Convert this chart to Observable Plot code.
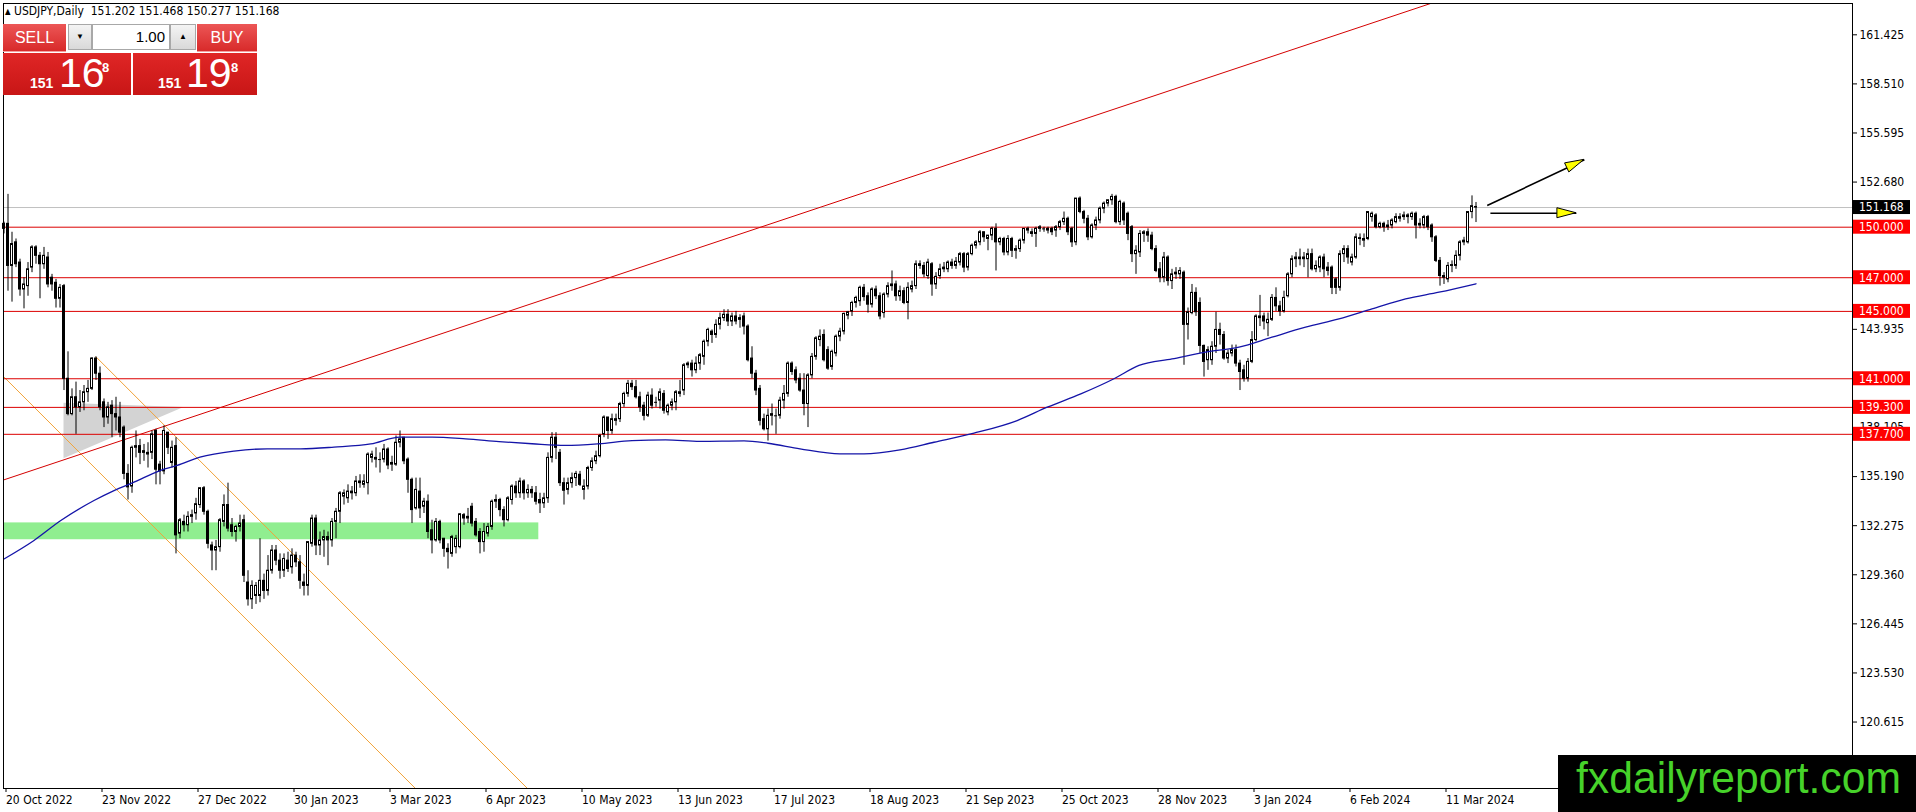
<!DOCTYPE html>
<html><head><meta charset="utf-8">
<script src="https://cdn.jsdelivr.net/npm/d3@7"></script>
<script src="https://cdn.jsdelivr.net/npm/@observablehq/plot@0.6"></script>
<style>
html,body{margin:0;padding:0;background:#fff;overflow:hidden;}
#wrap{position:relative;width:1916px;height:812px;}
#wrap svg{display:block;}
#title{position:absolute;left:5px;top:3px;font:12px "DejaVu Sans Condensed","DejaVu Sans",sans-serif;font-stretch:condensed;white-space:pre;line-height:16px;color:#000;}
#title .tri{font-size:8px;vertical-align:1px;}
.pb{position:absolute;box-sizing:border-box;font-family:"Liberation Sans Narrow","Liberation Sans",sans-serif;}
.btn{background:linear-gradient(#ec5656,#d82a2a);color:#fff;font-size:16px;text-align:center;line-height:27px;border-bottom:1px solid #f4a0a0;}
.spin{background:linear-gradient(#f4f4f4,#d9d9d9);border:1px solid #a8a8a8;color:#000;font-size:8px;text-align:center;line-height:24px;}
.inp{background:#fff;border:1px solid #a8a8a8;color:#000;font-size:15px;text-align:right;padding-right:4px;line-height:24px;}
.big{background:linear-gradient(#e02626,#c81616);color:#fff;}
.big span{position:absolute;line-height:1;font-family:"Liberation Sans",sans-serif;}
.big .s{font-size:14px;font-weight:bold;top:23px;}
.big .l{font-size:41px;top:0px;}
.big .p{font-size:13px;font-weight:bold;top:8px;}
</style></head><body>
<div id="wrap"></div>
<script>
// ---------- data ----------
const xLabels = ["20 Oct 2022","23 Nov 2022","27 Dec 2022","30 Jan 2023","3 Mar 2023","6 Apr 2023","10 May 2023","13 Jun 2023","17 Jul 2023","18 Aug 2023","21 Sep 2023","25 Oct 2023","28 Nov 2023","3 Jan 2024","6 Feb 2024","11 Mar 2024"];
const xTickBars = [0,24,48,72,96,120,144,168,192,216,240,264,288,312,336,360];
// visible right-axis ticks (others are hidden under the price tags / watermark)
const yTicks = [161.425,158.51,155.595,152.68,143.935,138.105,135.19,132.275,129.36,126.445,123.53,120.615];
const levels = [150.0,147.0,145.0,141.0,139.3,137.7];
const bid = 151.168, ask = 151.198;

const open = [
149.9,150.2,147.7,149.1,147.9,146.3,146.5,147.6,148.8,148.3,
147.8,148.2,147.0,146.7,145.75,146.5,141.0,138.9,139.9,139.3,
139.6,140.2,140.4,142.2,141.3,139.6,138.7,139.4,138.9,138.7,
138.1,135.35,134.6,136.9,137.0,136.7,136.5,136.6,137.9,135.9,
135.5,137.8,136.0,137.0,131.8,132.5,132.3,132.8,133.0,133.5,
134.5,133.1,131.1,130.8,131.0,132.5,133.5,132.3,131.9,132.2,
132.6,128.9,127.9,128.1,128.1,129.0,128.4,129.6,130.8,130.2,
129.6,130.2,129.8,130.5,130.1,128.9,128.7,131.2,132.7,131.1,
131.4,131.6,131.4,132.5,133.1,134.0,133.9,134.2,134.2,134.9,
134.7,134.8,136.3,136.3,136.2,136.2,136.8,135.9,135.9,137.2,
137.5,136.2,135.0,133.3,134.3,133.4,133.7,132.0,131.4,132.5,
131.5,130.9,130.6,131.0,131.0,132.9,132.7,133.4,132.5,131.9,
131.3,131.8,132.2,133.7,133.8,133.2,132.6,133.8,134.6,134.2,
134.9,134.2,134.4,134.2,133.8,133.6,133.9,136.3,137.5,136.6,
134.8,134.4,134.8,135.1,135.3,134.4,134.6,135.7,136.1,136.4,
137.7,138.7,137.9,138.5,138.6,139.5,140.1,140.7,140.5,139.9,
139.4,138.8,140.0,139.6,139.7,140.1,139.0,139.4,139.6,140.1,
140.3,141.8,141.9,141.5,141.9,142.3,143.2,143.8,143.6,144.2,
144.6,144.8,144.4,144.7,144.6,144.7,144.1,142.2,141.3,140.4,
138.6,138.0,138.8,138.8,138.8,139.7,140.1,141.9,141.5,141.0,
140.3,139.5,141.2,142.3,143.3,143.6,142.7,141.7,142.5,143.5,
143.8,144.75,145.0,145.5,145.6,146.4,145.9,145.4,146.3,145.9,
144.9,146.0,146.5,146.6,145.9,146.2,145.5,146.3,146.5,147.8,
147.7,147.1,147.8,146.6,147.1,147.5,147.5,147.9,147.7,147.9,
148.4,147.6,148.4,148.9,149.1,149.7,149.3,149.5,149.9,149.1,
149.3,148.5,149.3,148.6,148.7,149.2,149.9,149.7,149.6,149.9,
149.9,149.9,149.9,149.8,150.0,150.3,150.5,149.9,149.1,151.7,
150.9,150.5,149.4,150.1,150.4,151.1,151.4,151.6,151.8,150.3,
151.4,150.8,150.0,148.4,148.5,149.6,149.7,149.5,148.7,147.5,
147.0,148.2,146.8,147.2,147.2,147.3,144.2,144.9,146.1,145.5,
142.95,142.1,142.1,142.9,143.9,143.6,142.2,142.5,142.7,141.9,
141.5,141.0,142.0,143.3,144.6,144.7,144.3,144.5,145.8,145.3,
145.0,145.9,147.2,148.1,148.2,148.1,148.1,148.4,147.5,147.6,
148.2,147.6,147.6,146.9,146.4,148.4,148.7,147.9,148.2,149.3,
149.2,149.3,150.6,150.7,150.0,150.2,150.1,150.1,150.3,150.5,
150.6,150.7,150.6,150.8,150.1,150.1,150.6,150.1,149.4,148.0,
147.1,146.9,147.7,147.7,148.3,149.1,149.1,150.9,151.202];

const high = [
150.3,151.95,149.7,149.3,148.1,147.0,147.9,148.9,148.9,148.5,
148.8,148.5,147.2,146.9,146.6,146.6,142.6,140.4,140.8,140.3,
140.6,140.9,142.25,142.3,141.7,139.8,139.6,139.7,139.9,139.6,
138.2,135.9,137.0,137.9,137.4,137.1,137.2,137.9,138.0,136.1,
138.2,137.8,137.3,137.5,132.7,132.9,133.1,133.2,133.9,134.5,
134.6,133.2,131.3,131.4,132.7,134.1,134.8,132.7,132.3,132.9,
132.9,129.6,129.0,128.9,131.5,129.4,130.5,131.1,131.1,130.6,
130.6,130.7,130.9,130.7,130.5,129.4,131.3,132.9,132.9,131.9,
132.0,131.9,132.7,133.3,134.3,134.4,134.7,134.6,135.2,135.3,
135.3,136.6,136.7,136.9,136.6,137.1,136.9,136.4,137.6,137.9,
137.5,136.3,135.1,135.1,135.1,133.9,134.1,132.6,132.7,132.6,
131.5,131.2,131.7,131.7,133.0,133.0,133.3,133.6,132.7,132.1,
132.4,132.4,133.8,134.1,133.9,133.4,134.0,134.7,134.9,135.1,
135.0,134.7,134.6,134.6,134.2,134.2,136.6,137.8,137.8,136.8,
135.1,135.1,135.4,135.5,135.5,135.0,135.8,136.3,136.7,137.7,
138.8,138.7,138.9,138.9,139.6,140.2,140.9,140.9,140.9,140.2,
139.6,140.2,140.4,139.9,140.4,140.3,139.5,139.8,140.3,140.9,
141.9,142.0,142.1,142.3,142.5,143.3,144.0,143.9,144.5,144.9,
145.1,145.1,144.9,145.0,144.8,144.9,144.2,142.9,141.5,140.6,
138.9,139.2,139.5,139.2,139.9,140.6,142.0,142.0,141.7,141.3,
141.3,141.3,142.5,143.5,143.9,143.9,142.9,142.7,143.6,144.0,
144.9,145.0,145.6,145.9,146.5,146.6,146.1,146.4,146.5,146.1,
146.1,146.7,147.4,146.8,146.5,146.4,146.7,146.8,148.0,148.0,
147.9,148.1,147.9,147.3,147.8,147.9,148.0,148.1,148.2,148.5,
148.5,148.5,149.0,149.2,149.8,149.7,149.5,150.0,150.2,149.4,
149.4,149.5,149.4,148.9,149.3,149.9,150.0,149.9,150.0,150.1,
150.0,150.0,150.0,150.1,150.4,150.9,150.6,150.0,151.7,151.8,
151.0,150.7,150.2,150.6,151.2,151.5,151.6,151.95,151.9,151.6,
151.5,150.9,150.1,148.9,149.8,149.8,149.9,149.7,148.9,147.9,
148.5,148.3,147.5,147.6,147.6,147.4,145.2,146.6,146.4,145.8,
143.0,142.9,143.2,144.95,144.3,143.8,142.7,143.0,143.0,142.1,
141.8,142.2,143.8,144.8,145.95,144.9,144.9,146.0,146.4,145.6,
146.2,147.3,148.3,148.5,148.7,148.5,148.7,148.7,148.0,148.3,
148.4,147.9,147.7,147.0,148.6,148.9,148.9,148.4,149.6,149.6,
149.6,150.9,150.9,150.8,150.3,150.3,150.4,150.5,150.8,150.8,
150.9,150.8,150.9,150.9,150.5,150.7,150.7,150.2,149.5,148.2,
147.3,147.9,148.0,148.6,149.2,149.4,150.9,151.86,151.468];

const low = [
149.6,146.2,145.55,147.6,145.9,145.15,145.9,147.3,147.8,145.75,
147.5,146.4,146.2,145.2,145.2,140.3,138.8,138.8,137.7,139.0,
139.1,139.6,140.3,140.9,139.1,138.1,138.3,137.5,137.9,137.5,
135.0,133.8,134.2,136.3,135.9,136.1,135.7,136.2,134.7,134.7,
135.3,136.5,135.7,130.6,131.5,131.9,131.9,132.4,132.6,133.3,
132.9,130.9,129.6,129.6,130.7,132.2,131.9,131.6,131.3,131.9,
128.9,127.5,127.3,127.6,127.7,127.9,128.1,129.4,129.9,129.1,
129.2,129.5,129.4,129.8,128.5,128.1,128.1,131.0,130.5,130.5,
130.4,129.9,131.0,131.5,132.4,133.5,133.6,133.8,134.0,134.5,
134.5,134.1,136.0,135.7,135.4,136.0,135.6,135.5,135.8,136.9,
135.9,134.2,132.4,133.2,132.7,133.0,131.5,130.6,131.3,131.2,
130.4,129.7,130.4,130.6,130.9,132.3,132.4,132.2,131.6,130.6,
130.7,131.6,132.0,133.3,132.8,132.2,132.5,133.5,133.9,133.9,
133.8,133.9,133.9,133.5,133.0,133.3,133.6,136.0,136.2,134.6,
133.5,134.1,134.5,134.6,134.6,133.8,134.4,135.5,135.9,136.3,
137.5,137.4,137.7,138.2,138.4,139.3,139.9,140.3,139.8,139.0,
138.5,138.7,139.2,139.3,139.2,138.9,138.8,139.1,139.1,139.9,
140.0,141.6,141.1,141.3,141.5,141.8,142.9,143.1,143.4,143.9,
144.4,144.1,144.1,144.2,144.0,143.6,142.0,141.0,140.0,138.2,
137.9,137.3,138.2,137.7,138.6,139.2,139.9,141.2,140.7,140.2,
138.8,138.1,141.0,142.1,142.9,142.0,141.5,141.5,142.3,143.2,
143.6,144.5,144.7,145.2,145.3,145.6,144.9,145.2,145.7,144.5,
144.6,145.8,146.2,145.6,145.6,145.4,144.5,146.1,146.3,147.5,
147.0,146.9,145.9,146.3,146.9,147.3,147.3,147.5,147.5,147.7,
147.3,147.4,148.3,148.7,148.9,149.1,148.6,149.2,147.4,148.9,
148.3,148.3,148.2,148.1,148.5,149.0,149.6,149.4,148.8,149.7,
149.7,149.6,149.5,149.4,149.8,150.1,149.5,148.8,148.9,150.8,
150.2,149.2,149.3,149.8,150.2,150.8,151.2,151.3,150.2,150.1,
150.1,149.2,147.9,147.2,148.2,149.1,149.1,148.6,147.3,146.7,
146.7,146.5,146.3,146.9,146.9,141.8,143.3,144.8,144.7,142.5,
141.1,141.5,141.8,142.5,143.0,142.1,141.9,142.3,141.7,140.3,
140.8,140.8,141.9,143.2,144.1,143.9,143.5,144.4,145.0,144.7,
144.9,145.8,147.0,147.6,147.7,147.6,147.0,147.4,147.3,147.3,
147.0,147.1,146.0,146.0,146.2,147.9,147.8,147.7,148.1,148.9,
148.8,149.2,150.3,149.9,149.9,149.7,149.8,149.9,150.2,150.3,
150.4,150.2,150.4,149.3,149.9,149.9,149.8,149.1,147.9,146.5,
146.6,146.7,147.3,147.5,148.0,148.9,149.0,150.5,150.277];

const close = [
150.2,147.7,149.0,147.8,146.3,146.6,147.5,148.8,148.3,147.8,
148.3,146.6,146.6,145.75,146.4,141.0,138.9,139.9,139.3,139.6,
140.2,140.4,142.2,141.3,139.3,138.7,139.3,138.9,138.7,137.8,
135.35,134.55,136.9,137.0,136.6,136.6,136.6,137.7,135.6,135.5,
137.9,136.9,136.9,131.7,132.6,132.3,132.8,132.9,133.55,134.5,
133.1,131.2,130.8,131.0,132.6,133.5,132.1,131.9,132.2,132.4,
129.3,127.9,128.7,128.7,129.0,128.4,129.6,130.8,130.2,129.6,
130.3,129.7,130.5,130.1,129.0,128.7,131.3,132.7,131.1,131.4,
131.6,131.4,132.5,133.1,134.2,134.2,134.3,134.3,134.9,134.8,
134.9,136.5,136.5,136.2,136.2,136.8,135.85,136.0,137.2,137.4,
136.1,135.0,133.2,134.4,133.3,133.7,131.9,131.4,132.5,131.4,
130.9,130.7,131.6,131.5,132.95,132.7,132.8,132.4,131.7,131.3,
131.9,132.2,133.7,133.8,133.2,132.6,133.9,134.6,134.2,134.9,
134.2,134.4,134.2,133.7,133.6,133.9,136.3,137.5,136.9,134.8,
134.35,134.8,135.1,135.35,134.7,134.6,135.7,136.1,136.4,137.6,
138.7,137.9,138.6,138.6,139.5,140.1,140.7,140.5,139.9,139.3,
138.8,140.0,139.4,139.6,140.2,139.1,139.4,139.6,140.2,140.2,
141.8,141.9,141.5,141.9,142.4,143.2,143.9,143.6,144.2,144.6,
144.8,144.4,144.7,144.4,144.5,144.1,142.1,141.3,140.3,138.5,
138.0,138.8,138.9,138.8,139.7,140.1,141.9,141.4,140.9,140.3,
139.5,141.2,142.3,143.4,143.5,142.1,141.6,142.6,143.5,143.8,
144.85,144.95,145.5,145.8,146.4,145.85,145.4,146.3,145.9,144.7,
146.0,146.5,146.6,145.9,146.2,145.5,146.4,146.5,147.8,147.7,
147.2,147.9,146.6,147.05,147.5,147.6,147.9,147.7,147.95,148.4,
147.6,148.4,148.9,149.1,149.7,149.4,149.5,149.9,149.1,149.3,
148.5,149.3,148.6,148.7,149.2,149.9,149.8,149.6,149.9,150.0,
149.9,149.8,149.7,150.0,150.3,150.5,149.7,149.1,151.7,150.9,
150.5,149.4,150.1,150.4,151.1,151.4,151.6,151.8,150.3,151.5,
150.4,149.6,148.4,148.6,149.6,149.7,149.5,148.7,147.4,147.0,
148.2,146.8,147.2,147.3,147.4,144.2,144.95,146.1,144.95,142.95,
142.0,142.7,142.9,143.9,143.6,142.2,142.5,142.7,141.9,141.4,
141.0,142.0,143.3,144.7,144.7,144.4,144.5,145.8,145.3,145.0,
145.8,147.2,148.1,148.2,148.1,148.2,148.4,147.5,147.7,148.2,
147.5,147.4,146.4,146.4,148.4,148.7,148.2,148.2,149.4,149.35,
149.3,150.9,150.8,150.0,150.2,150.0,150.0,150.4,150.6,150.6,
150.7,150.6,150.8,150.1,150.2,150.6,150.0,149.4,148.0,147.1,
147.0,147.7,147.75,148.3,149.1,149.2,150.9,151.25,151.168];

// moving average readings (bar index, value)
const maBar = [0,7.5,14.2,22.5,27.5,32.5,39,43.3,49,57.5,65.8,74.2,82.5,91.7,99,107,115.4,123.75,132,140.4,148.75,157,165.4,174,185,191,199,209,215,224,232.5,242.5,253.3,260.8,269.2,277.5,283.75,292,300.4,308.75,317,325.4,333.75,342,350.4,358.75,368];
const maVal = [130.3,131.4,132.58,133.77,134.36,134.86,135.55,135.85,136.34,136.7,136.84,136.84,136.94,137.13,137.53,137.53,137.43,137.27,137.14,137.04,137.14,137.33,137.37,137.28,137.31,137.17,136.84,136.54,136.54,136.78,137.23,137.77,138.52,139.31,140.1,141.0,141.79,142.18,142.58,142.88,143.47,144.06,144.56,145.15,145.74,146.14,146.64];

// drawn objects (anchor points)
const trendBar = [-1, 360], trendPrice = [134.92, 163.55];
const chanABar = [-1, 104], chanAPrice = [141.34, 116.4];
const chanBBar = [23, 132], chanBPrice = [142.3, 116.4];
const zoneBar = [-0.125, 133.7], zonePrice = [131.44, 132.44];
const triBar = [15, 45], triLow = [136.25, 139.3], triHigh = [139.55, 139.3];
const arrowFromBar = [370.8, 371.6], arrowFromPrice = [151.29, 150.83];
const arrowToBar = [395.1, 393.1], arrowToPrice = [154.0, 150.83];

// ---------- build ----------
const bars = open.map((o, i) => ({i, o, h: high[i], l: low[i], c: close[i]}));
const bodies = bars.filter(d => Math.abs(d.c - d.o) > 0.02);
const dojis = bars.filter(d => Math.abs(d.c - d.o) <= 0.02);
const bull = bodies.filter(d => d.c > d.o), bear = bodies.filter(d => d.c < d.o);
const ma = maBar.map((b, k) => ({i: b, v: maVal[k]}));
const trend = trendBar.map((b, k) => ({i: b, p: trendPrice[k]}));
const chanA = chanABar.map((b, k) => ({i: b, p: chanAPrice[k]}));
const chanB = chanBBar.map((b, k) => ({i: b, p: chanBPrice[k]}));
const zone = [{x1: zoneBar[0], x2: zoneBar[1], y1: zonePrice[0], y2: zonePrice[1]}];
const tri = triBar.map((b, k) => ({i: b, lo: triLow[k], hi: triHigh[k]}));
const arrows = arrowFromBar.map((b, k) => ({x1: b, y1: arrowFromPrice[k], x2: arrowToBar[k], y2: arrowToPrice[k]}));

const FONT = "'DejaVu Sans Condensed','DejaVu Sans',sans-serif";
const RED = "#dc0000";

const chart = Plot.plot({
  width: 1916, height: 812,
  marginLeft: 3, marginTop: 3, marginRight: 64, marginBottom: 24,
  x: {domain: [-0.125, 462.125], axis: null},
  y: {domain: [116.668, 163.284], axis: null},
  style: {fontFamily: FONT, fontSize: "12px", background: "white", color: "black", fontStretch: "condensed"},
  marks: [
    Plot.rect(zone, {x1: "x1", x2: "x2", y1: "y1", y2: "y2", fill: "#90ee90"}),
    Plot.areaY(tri, {x: "i", y1: "lo", y2: "hi", fill: "#d3d3d3"}),
    Plot.line(chanA, {x: "i", y: "p", stroke: "#f2a33a", strokeWidth: 1, clip: true}),
    Plot.line(chanB, {x: "i", y: "p", stroke: "#f2a33a", strokeWidth: 1, clip: true}),
    Plot.ruleY([bid], {stroke: "#c0c0c0", strokeWidth: 1}),
    Plot.ruleY(levels, {stroke: RED, strokeWidth: 1}),
    Plot.line(trend, {x: "i", y: "p", stroke: "#d40000", strokeWidth: 1, clip: true}),
    Plot.ruleX(bars, {x: "i", y1: "l", y2: "h", stroke: "black", strokeWidth: 1}),
    Plot.rect(bull, {x1: d => d.i - 0.25, x2: d => d.i + 0.25, y1: "o", y2: "c", fill: "white", stroke: "black", strokeWidth: 1}),
    Plot.rect(bear, {x1: d => d.i - 0.25, x2: d => d.i + 0.25, y1: "o", y2: "c", fill: "black", stroke: "black", strokeWidth: 1}),
    Plot.ruleY(dojis, {y: "o", x1: d => d.i - 0.375, x2: d => d.i + 0.375, stroke: "black", strokeWidth: 1}),
    Plot.line(ma, {x: "i", y: "v", stroke: "#1414a8", strokeWidth: 1.3, curve: "monotone-x"}),
    Plot.link(arrows, {x1: "x1", y1: "y1", x2: "x2", y2: "y2", stroke: "black", strokeWidth: 1.6}),
    Plot.frame({stroke: "black"}),
    Plot.axisY({anchor: "right", ticks: yTicks, tickFormat: d => d.toFixed(3), tickSize: 4, tickPadding: 3}),
    Plot.axisX({anchor: "bottom", ticks: xTickBars, tickFormat: d => xLabels[xTickBars.indexOf(d)], textAnchor: "start", tickSize: 4, tickPadding: 3, dx: 2})
  ]
});

const wrap = document.getElementById("wrap");
wrap.appendChild(chart);

const svg = d3.select(chart);
const xs = chart.scale("x"), ys = chart.scale("y");

// arrow heads
arrows.forEach(a => {
  const sx = xs.apply(a.x1), sy = ys.apply(a.y1), tx = xs.apply(a.x2), ty = ys.apply(a.y2);
  const len = Math.hypot(tx - sx, ty - sy), ux = (tx - sx) / len, uy = (ty - sy) / len;
  const bx = tx - 19 * ux, by = ty - 19 * uy, nx = -uy, ny = ux, w = 5;
  svg.append("polygon")
    .attr("points", `${tx},${ty} ${bx + w * nx},${by + w * ny} ${bx - w * nx},${by - w * ny}`)
    .attr("fill", "#ffff00").attr("stroke", "black").attr("stroke-width", 1);
});

// price labels on the right axis
const tags = levels.map(v => ({v, bg: "#ff0000"})).concat([{v: bid, bg: "#000000"}]);
const tg = svg.append("g").attr("font-family", FONT).attr("font-size", 12)
  .attr("font-stretch", "condensed").attr("text-anchor", "start");
tags.forEach(t => {
  const y = ys.apply(t.v);
  tg.append("rect").attr("x", 1853).attr("y", y - 7).attr("width", 57).attr("height", 14).attr("fill", t.bg);
  tg.append("text").attr("x", 1859).attr("y", y).attr("dy", "0.36em").attr("fill", "white").text(t.v.toFixed(3));
});

// watermark
svg.append("rect").attr("x", 1558).attr("y", 755).attr("width", 358).attr("height", 57).attr("fill", "black");
svg.append("text").attr("x", 1576).attr("y", 793).attr("text-anchor", "start")
  .attr("font-family", "'Liberation Sans',sans-serif")
  .attr("font-size", 44).attr("fill", "#46d22a").attr("textLength", 325).attr("lengthAdjust", "spacingAndGlyphs")
  .text("fxdailyreport.com");

// title
const title = document.createElement("div");
title.id = "title";
title.innerHTML = `<span class="tri">▲</span> USDJPY,Daily  ${open.at(-1).toFixed(3)} ${high.at(-1).toFixed(3)} ${low.at(-1).toFixed(3)} ${close.at(-1).toFixed(3)}`;
wrap.appendChild(title);

// one-click trading panel
function box(cls, l, t, w, h, txt) {
  const d = document.createElement("div");
  d.className = "pb " + cls;
  Object.assign(d.style, {left: l + "px", top: t + "px", width: w + "px", height: h + "px"});
  if (txt !== undefined) d.textContent = txt;
  wrap.appendChild(d);
  return d;
}
box("btn", 3, 24, 63, 28, "SELL");
box("spin", 68, 24, 24, 26, "▼");
box("inp", 92, 24, 78, 26, "1.00");
box("spin", 170, 24, 26, 26, "▲");
box("btn", 197, 24, 60, 28, "BUY");
function bigQuote(l, w, price, pos) {
  const d = box("big", l, 53, w, 42);
  const s = price.toFixed(3);
  const parts = [s.slice(0, 3), s.slice(4, 6), s.slice(6)];
  [["s", parts[0], pos[0]], ["l", parts[1], pos[1]], ["p", parts[2], pos[2]]].forEach(([c, t, x]) => {
    const sp = document.createElement("span");
    sp.className = c; sp.textContent = t; sp.style.left = x + "px";
    d.appendChild(sp);
  });
}
bigQuote(3, 128, bid, [27, 56, 99]);
bigQuote(133, 124, ask, [25, 53, 98]);
</script>
</body></html>
